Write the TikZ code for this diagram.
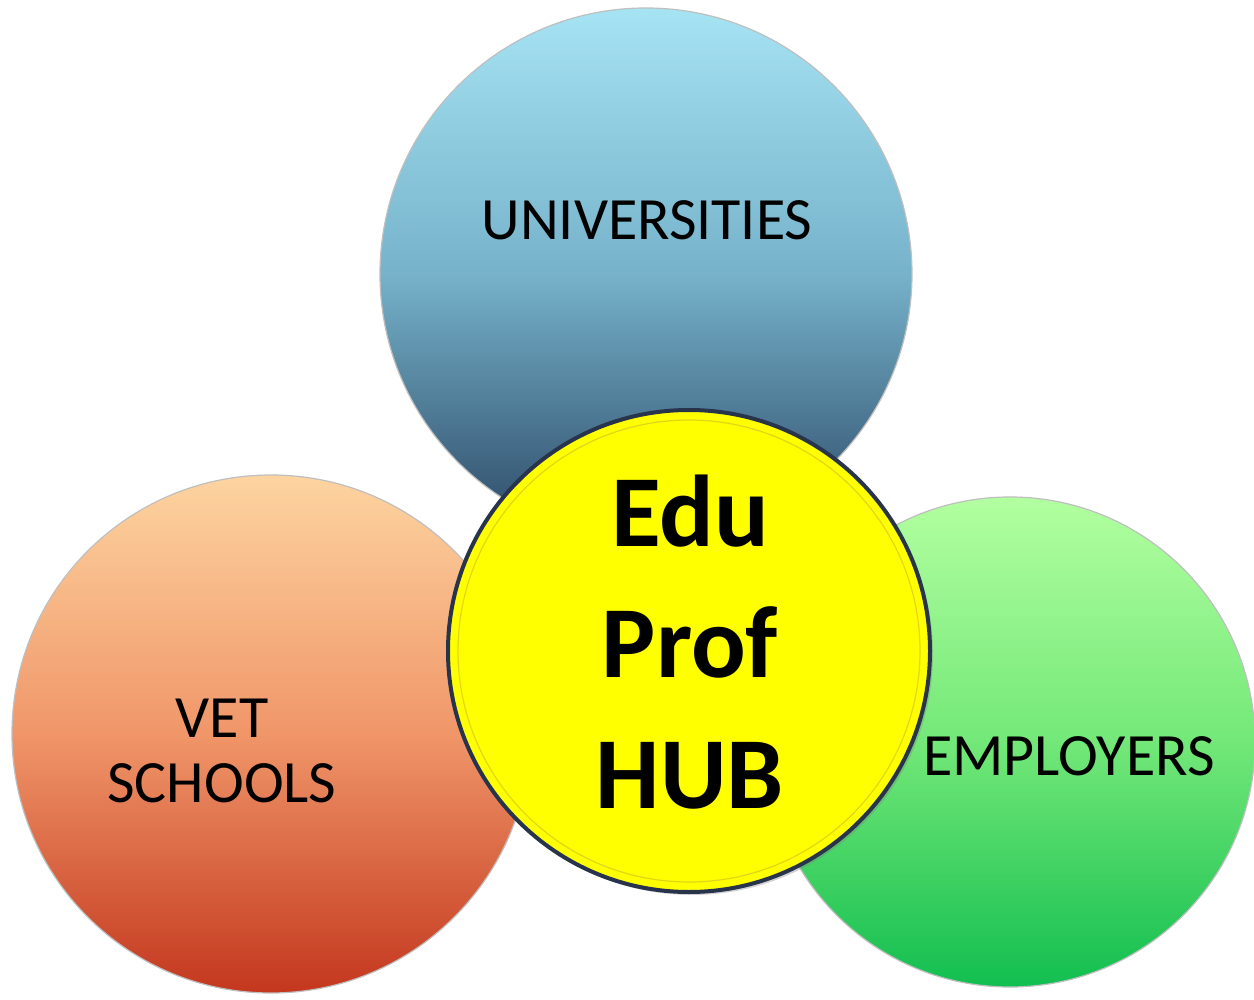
\documentclass[tikz,border=0pt]{standalone}
\usepackage{fontspec}
\setmainfont{Carlito}
\usetikzlibrary{shadows}
\definecolor{bluetop}{RGB}{166,227,243}
\definecolor{bluemid}{RGB}{118,178,202}
\definecolor{bluebot}{RGB}{42,70,100}
\definecolor{orgtop}{RGB}{253,212,160}
\definecolor{orgmid}{RGB}{240,150,105}
\definecolor{orgbot}{RGB}{195,55,30}
\definecolor{grntop}{RGB}{178,255,160}
\definecolor{grnmid}{RGB}{115,232,120}
\definecolor{grnbot}{RGB}{18,190,80}
\definecolor{hubyel}{RGB}{255,255,0}
\definecolor{hubrim}{RGB}{40,52,75}
\definecolor{hubring}{RGB}{225,215,20}
\tikzset{
  bubble/.style={circle, inner sep=0pt, draw=black!25, line width=0.6pt},
  lbl/.style={inner sep=0pt, font=\fontsize{30}{32.5}\selectfont, align=center, text=black},
  hubtext/.style={inner sep=0pt, font=\fontsize{51}{65.5}\selectfont\bfseries, align=center, text=black}
}
\begin{document}
\begin{tikzpicture}[x=0.5pt, y=-0.5pt]
\useasboundingbox (0,0) rectangle (1254,1000);
\fill[white] (0,0) rectangle (1254,1000);
% outer circles
\node[bubble, minimum size=266pt, top color=bluetop, bottom color=bluebot, middle color=bluemid] (uni) at (646,274) {};
\node[bubble, minimum size=259pt, top color=orgtop, bottom color=orgbot, middle color=orgmid] (vet) at (271,734) {};
\node[bubble, minimum size=245pt, top color=grntop, bottom color=grnbot, middle color=grnmid] (emp) at (1010,742) {};
% hub
\node[circle, inner sep=0pt, minimum size=241pt, fill=hubyel, draw=hubrim, line width=2pt,
      drop shadow={shadow xshift=1.5pt, shadow yshift=-1.5pt, opacity=0.35}] (hub) at (689,651) {};
\node[circle, inner sep=0pt, minimum size=231pt, draw=hubring, line width=0.6pt] (hubinner) at (689,651) {};
% labels
\node[lbl, anchor=base] (unit) at (647,240) {UNIVERSITIES};
\node[lbl, anchor=south] (vett) at (222,803) {VET\\SCHOOLS};
\node[lbl, anchor=base] (empt) at (1069,775) {EMPLOYERS};
\node[hubtext, anchor=south] (hubt) at (690,810) {Edu\\Prof\\HUB};
\end{tikzpicture}
\end{document}
